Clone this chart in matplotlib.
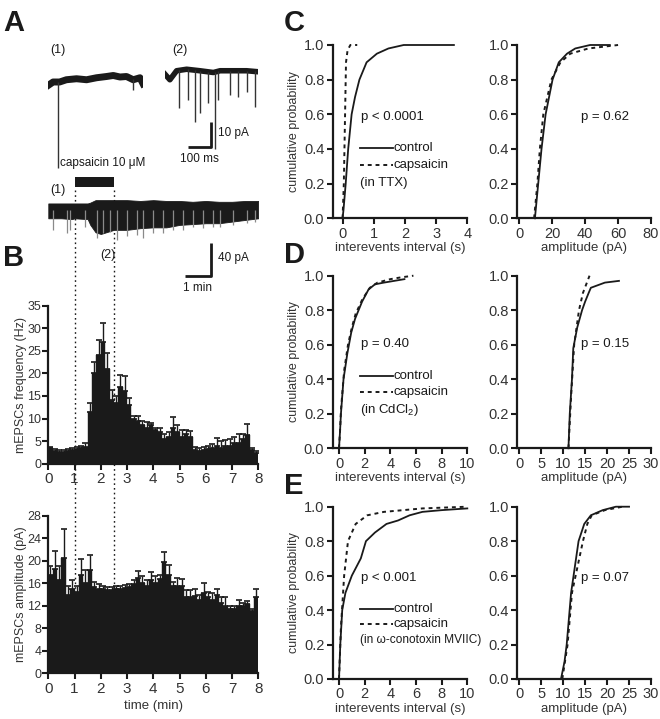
import numpy as np
import matplotlib
matplotlib.use('Agg')
import matplotlib.pyplot as plt
from matplotlib.lines import Line2D
from matplotlib.patches import Rectangle
from matplotlib.transforms import blended_transform_factory

plt.rcParams['font.family'] = ['Liberation Sans', 'DejaVu Sans']
plt.rcParams['mathtext.fontset'] = 'custom'
plt.rcParams['mathtext.rm'] = 'Liberation Sans'
plt.rcParams['mathtext.it'] = 'Liberation Sans:italic'

W, H = 660, 719
INK = '#1a1a1a'

# ---- panel A: example traces (pA, ms) ----
trace1_t = [0, 22, 50, 79, 123, 166, 209, 252, 281, 310, 338, 367, 396, 409]
trace1_i = [-2.2, -0.8, -0.8, 0.1, 0.5, 0.1, 0.9, 1.4, 1.8, 1.2, 1.4, 0.1, 0.9, -1.5]
trace1_ev_t = [45, 364]
trace1_ev_i = [-35.0, -4.0]

trace2_t = [0, 21, 50, 93, 150, 208, 237, 294, 351, 400]
trace2_i = [-1.7, -3.9, -0.3, 0.3, -0.3, -1.0, -0.3, -0.3, -0.3, -0.7]
trace2_ev_t = [60, 98, 129, 150, 186, 215, 229, 280, 315, 351, 387]
trace2_ev_i = [-15.3, -12.0, -20.7, -17.3, -13.3, -31.6, -12.0, -10.0, -10.7, -8.7, -14.7]

# long recording (min, pA)
long_t = [0, 0.5, 0.9, 1.0, 1.5, 1.6, 1.8, 2.0, 2.5, 3.0, 3.5, 4.0, 4.5, 5.0, 5.5, 6.0, 6.5, 7.0, 7.5, 8.0]
long_hi = [8, 8, 8, 8, 8, 9, 12, 12, 12, 12, 11, 12, 11, 11, 10, 11, 10, 10, 11, 11]
long_lo = [-10, -10, -11, -10, -11, -18, -27, -29, -24, -24, -22, -21, -21, -18, -17, -16, -16, -14, -12, -10]
spike_t = [0.19, 0.7, 0.83, 1.4, 1.84, 2.1, 2.35, 2.6, 2.99, 3.37, 3.62, 4.0, 4.38, 4.76,
           5.14, 5.52, 5.9, 6.29, 6.54, 7.05, 7.56, 7.87]
spike_i = [-24, -28, -24, -20, -34, -28, -26, -36, -32, -30, -34, -28, -28, -24,
           -24, -20, -22, -20, -20, -18, -16, -14]
caps_on, caps_off = 1.0, 2.5

# ---- panel B: 10 s bins ----
bin_w = 10 / 60
freq_mean = [3.5, 2.8, 2.5, 2.7, 2.8, 3.0, 3.2, 3.4, 3.6,
             11.5, 20.0, 24.0, 27.0, 21.0, 14.0, 13.5, 17.0, 16.0,
             13.0, 10.0, 9.5, 8.5, 8.0, 8.5, 7.5, 7.0, 5.5,
             6.0, 8.0, 7.0, 6.0, 6.5, 6.0, 3.0, 2.8, 3.0,
             3.3, 3.5, 4.0, 3.5, 4.0, 4.0, 4.5, 4.5, 5.5,
             6.3, 3.0, 2.3]
freq_sem = [0.3, 0.4, 0.5, 0.4, 0.4, 0.5, 0.4, 0.6, 1.0,
            2.0, 2.5, 3.3, 4.2, 3.5, 2.3, 1.5, 2.7, 3.5,
            1.5, 0.5, 1.0, 1.0, 1.3, 0.5, 0.5, 1.0, 1.0,
            1.0, 2.3, 1.5, 1.5, 0.9, 1.2, 0.8, 0.7, 0.8,
            0.7, 0.8, 1.6, 1.5, 1.3, 1.5, 1.5, 2.0, 1.1,
            2.5, 0.5, 0.5]
amp_mean = [17.5, 18.5, 16.5, 20.5, 14.0, 15.0, 14.5, 17.5, 16.0, 18.3,
            15.3, 15.0, 15.0, 14.8, 14.8, 15.0, 15.0, 15.2, 15.3, 15.8,
            17.0, 16.0, 15.5, 16.5, 16.0, 16.8, 19.7, 17.5, 15.5, 15.5,
            15.5, 13.5, 13.5, 13.8, 13.0, 14.3, 13.5, 13.0, 14.0, 12.5,
            12.0, 11.5, 11.5, 12.0, 12.0, 12.3, 11.0, 13.5]
amp_sem = [1.5, 3.3, 2.5, 5.1, 1.5, 1.5, 1.0, 2.8, 2.3, 2.8,
           1.0, 0.8, 0.5, 0.5, 0.5, 0.5, 0.5, 0.4, 0.5, 0.7,
           1.2, 1.3, 1.0, 1.5, 1.2, 0.7, 1.9, 1.8, 0.8, 1.5,
           1.3, 1.3, 1.3, 1.2, 1.0, 1.7, 1.0, 1.3, 1.0, 1.0,
           1.5, 0.5, 0.5, 1.0, 0.5, 0.5, 0.5, 1.5]

# ---- panels C-E: cumulative distributions ----
c_int_ctrl = ([0.0, 0.03, 0.1, 0.18, 0.29, 0.4, 0.54, 0.77, 1.1, 1.47, 1.96, 3.57],
              [0.0, 0.05, 0.2, 0.4, 0.6, 0.7, 0.8, 0.9, 0.95, 0.98, 1.0, 1.0])
c_int_caps = ([0.0, 0.04, 0.08, 0.11, 0.16, 0.25, 0.47],
              [0.0, 0.2, 0.6, 0.9, 0.97, 1.0, 1.0])
c_amp_ctrl = ([9.5, 11.5, 13.5, 16.0, 20.2, 24.0, 29.0, 34.0, 43.0, 55.0],
              [0.0, 0.2, 0.4, 0.6, 0.8, 0.9, 0.95, 0.98, 1.0, 1.0])
c_amp_caps = ([9.0, 11.0, 12.5, 14.6, 19.5, 25.0, 31.0, 42.0, 60.0],
              [0.0, 0.2, 0.4, 0.6, 0.8, 0.9, 0.95, 0.98, 1.0])
d_int_ctrl = ([0.0, 0.08, 0.15, 0.35, 0.65, 0.95, 1.25, 1.8, 2.3, 2.8, 3.5, 4.3, 5.1],
              [0.0, 0.1, 0.2, 0.4, 0.55, 0.67, 0.75, 0.85, 0.92, 0.95, 0.96, 0.97, 0.98])
d_int_caps = ([0.0, 0.08, 0.15, 0.4, 0.7, 1.0, 1.3, 1.8, 2.4, 3.0, 4.0, 4.8, 5.8],
              [0.0, 0.1, 0.22, 0.45, 0.6, 0.7, 0.78, 0.86, 0.93, 0.96, 0.98, 0.99, 1.0])
d_amp_ctrl = ([11.2, 11.5, 12.0, 12.3, 13.2, 14.3, 15.0, 15.8, 16.3, 19.5, 22.7],
              [0.0, 0.2, 0.4, 0.58, 0.7, 0.8, 0.85, 0.9, 0.93, 0.96, 0.97])
d_amp_caps = ([11.2, 11.8, 12.5, 13.6, 14.5, 16.0],
              [0.0, 0.3, 0.6, 0.8, 0.9, 1.0])
e_int_ctrl = ([0.0, 0.1, 0.25, 0.5, 1.0, 1.7, 2.1, 2.8, 3.7, 4.6, 5.5, 6.5, 8.0, 10.0],
              [0.0, 0.2, 0.4, 0.5, 0.6, 0.7, 0.8, 0.85, 0.9, 0.92, 0.95, 0.97, 0.98, 0.99])
e_int_caps = ([0.0, 0.15, 0.4, 0.7, 1.3, 2.2, 3.5, 6.5, 10.0],
              [0.0, 0.3, 0.6, 0.8, 0.9, 0.95, 0.97, 0.99, 1.0])
e_amp_ctrl = ([9.5, 10.3, 10.8, 11.8, 13.5, 14.8, 16.3, 19.0, 22.0, 25.0],
              [0.0, 0.1, 0.2, 0.5, 0.8, 0.9, 0.95, 0.98, 1.0, 1.0])
e_amp_caps = ([9.8, 11.0, 12.0, 14.5, 15.5, 16.5, 19.5, 23.5],
              [0.0, 0.2, 0.5, 0.8, 0.9, 0.95, 0.98, 1.0])


def box(x0, y0, x1, y1):
    return [x0 / W, 1 - y1 / H, (x1 - x0) / W, (y1 - y0) / H]


fig = plt.figure(figsize=(6.6, 7.19), dpi=100)

# ---------- A ----------
def draw_trace(ax, t, i, ev_t, ev_i, lw):
    ax.plot(t, i, color=INK, lw=lw, solid_joinstyle='round')
    ax.vlines(ev_t, ev_i, np.interp(ev_t, t, i), color='#333333', lw=1.0)
    ax.axis('off')

ax1 = fig.add_axes(box(48, 55, 143, 180))
draw_trace(ax1, trace1_t, trace1_i, trace1_ev_t, trace1_ev_i, 5)
ax1.set_xlim(0, 409)
ax1.set_ylim(-40, 10)
ax1.text(43, 12, '(1)', ha='center', va='center', fontsize=9, color=INK)

ax2 = fig.add_axes(box(165, 45, 258, 170))
draw_trace(ax2, trace2_t, trace2_i, trace2_ev_t, trace2_ev_i, 4)
ax2.set_xlim(0, 400)
ax2.set_ylim(-40, 10)
ax2.text(64, 8, '(2)', ha='center', va='center', fontsize=9, color=INK)
ax2.plot([198, 198, 98], [-20.8, -30.8, -30.8], color=INK, lw=2, solid_capstyle='butt')
ax2.text(228, -25.2, '10 pA', ha='left', va='center', fontsize=8.5, color=INK)
ax2.text(150, -35.6, '100 ms', ha='center', va='center', fontsize=8.5, color=INK)

axl = fig.add_axes(box(48.3, 155, 258.3, 300))
axl.patch.set_alpha(0)
axl.vlines(spike_t, spike_i, 0, color='#8a8a8a', lw=0.9)
axl.fill_between(long_t, long_lo, long_hi, color=INK, lw=0.6)
axl.add_patch(Rectangle((caps_on, 28), caps_off - caps_on, 12, color=INK, lw=0))
axl.text(0.45, 57, 'capsaicin 10 \u03bcM', ha='left', va='center', fontsize=8.5, color=INK)
axl.text(0.37, 24, '(1)', ha='center', va='center', fontsize=9, color=INK)
axl.text(2.28, -54, '(2)', ha='center', va='center', fontsize=9, color=INK)
axl.plot([6.2, 6.2, 5.2], [-40, -80, -80], color=INK, lw=2, solid_capstyle='butt')
axl.text(6.47, -58, '40 pA', ha='left', va='center', fontsize=8.5, color=INK)
axl.text(5.7, -94, '1 min', ha='center', va='center', fontsize=8.5, color=INK)
axl.set_xlim(0, 8)
axl.set_ylim(-109, 66.7)
axl.axis('off')

# ---------- B ----------
bin_start = np.arange(len(freq_mean)) * bin_w


def hist_axes(rect, mean, sem, ymax, yticks, ylabel):
    ax = fig.add_axes(rect)
    ax.patch.set_alpha(0)
    ax.bar(bin_start, mean, width=bin_w, align='edge', color=INK, edgecolor=INK, lw=0.3)
    ax.errorbar(bin_start + bin_w / 2, mean, yerr=[np.zeros(len(sem)), sem], fmt='none',
                ecolor=INK, elinewidth=1.0, capsize=2.5, capthick=1.2)
    ax.set_xlim(0, 8)
    ax.set_ylim(0, ymax)
    ax.set_xticks(range(9))
    ax.set_yticks(yticks)
    for s in ['top', 'right']:
        ax.spines[s].set_visible(False)
    for s in ['left', 'bottom']:
        ax.spines[s].set_linewidth(1.6)
        ax.spines[s].set_color(INK)
    ax.tick_params(axis='both', direction='out', length=4, width=1.5, color=INK)
    ax.tick_params(axis='x', labelsize=11, pad=2, labelcolor='#333333')
    ax.tick_params(axis='y', labelsize=9, pad=1, labelcolor='#333333')
    ax.set_ylabel(ylabel, fontsize=9, color='#333333', labelpad=0)
    return ax


axf = hist_axes(box(48.3, 305.7, 258.3, 463.7), freq_mean, freq_sem, 35,
                range(0, 36, 5), 'mEPSCs frequency (Hz)')
axa = hist_axes(box(48.3, 515.7, 258.3, 673.3), amp_mean, amp_sem, 28,
                range(0, 29, 4), 'mEPSCs amplitude (pA)')
axa.set_xlabel('time (min)', fontsize=9.5, color='#333333', labelpad=3)

trans = blended_transform_factory(axf.transData, fig.transFigure)
for t in [caps_on, caps_off]:
    fig.add_artist(Line2D([t, t], [1 - 190 / H, 1 - 673 / H], transform=trans,
                          color=INK, lw=1.0, ls=(0, (1.2, 2.2)), zorder=-1))

# ---------- C-E ----------
def cdf_axes(rect, xlim, xticks, ctrl, caps, xlabel, ylabel=None):
    ax = fig.add_axes(rect)
    ax.plot(ctrl[0], ctrl[1], color=INK, lw=1.3, clip_on=False)
    ax.plot(caps[0], caps[1], color=INK, lw=1.4, ls=(0, (2, 2)), clip_on=False)
    ax.set_xlim(*xlim)
    ax.set_ylim(0, 1.0)
    ax.set_xticks(xticks)
    ax.set_yticks([0, 0.2, 0.4, 0.6, 0.8, 1.0])
    ax.set_yticklabels(['0.0', '0.2', '0.4', '0.6', '0.8', '1.0'])
    for s in ['top', 'right']:
        ax.spines[s].set_visible(False)
    for s in ['left', 'bottom']:
        ax.spines[s].set_linewidth(1.6)
        ax.spines[s].set_color(INK)
    ax.tick_params(axis='both', direction='out', length=4, width=1.5, color=INK,
                   labelsize=10.5, labelcolor='#333333', pad=2)
    ax.set_xlabel(xlabel, fontsize=9.5, color='#333333', labelpad=1)
    if ylabel:
        ax.set_ylabel(ylabel, fontsize=9, color='#333333', labelpad=3)
    return ax


def legend_block(ax, ptxt, cond, ys, cond_size=9.5):
    ax.text(0.21, ys[0], ptxt, transform=ax.transAxes, fontsize=9.5, color=INK, va='center')
    ax.plot([0.2, 0.445], [ys[1], ys[1]], transform=ax.transAxes, color=INK, lw=1.3)
    ax.plot([0.2, 0.445], [ys[2], ys[2]], transform=ax.transAxes, color=INK, lw=1.4,
            ls=(0, (2, 2)))
    ax.text(0.455, ys[1], 'control', transform=ax.transAxes, fontsize=9.5, color=INK, va='center')
    ax.text(0.455, ys[2], 'capsaicin', transform=ax.transAxes, fontsize=9.5, color=INK, va='center')
    ax.text(0.2, ys[3], cond, transform=ax.transAxes, fontsize=cond_size, color=INK, va='center')


L0, L1 = 332.6, 467.3
R0, R1 = 517.3, 651

axc1 = cdf_axes(box(L0, 45, L1, 218.3), (-0.32, 4), range(0, 5), c_int_ctrl, c_int_caps,
                'interevents interval (s)', 'cumulative probability')
legend_block(axc1, 'p < 0.0001', '(in TTX)', [0.583, 0.407, 0.31, 0.205])
axc2 = cdf_axes(box(R0, 45, R1, 218.3), (-1.2, 80), range(0, 81, 20), c_amp_ctrl, c_amp_caps,
                'amplitude (pA)')
axc2.text(0.48, 0.583, 'p = 0.62', transform=axc2.transAxes, fontsize=9.5, color=INK, va='center')

axd1 = cdf_axes(box(L0, 275.7, L1, 448.3), (-0.5, 10), range(0, 11, 2), d_int_ctrl, d_int_caps,
                'interevents interval (s)', 'cumulative probability')
legend_block(axd1, 'p = 0.40', '(in CdCl$_2$)', [0.605, 0.42, 0.324, 0.222])
axd2 = cdf_axes(box(R0, 275.7, R1, 448.3), (-0.45, 30), range(0, 31, 5), d_amp_ctrl, d_amp_caps,
                'amplitude (pA)')
axd2.text(0.48, 0.605, 'p = 0.15', transform=axd2.transAxes, fontsize=9.5, color=INK, va='center')

axe1 = cdf_axes(box(L0, 506.7, L1, 679), (-0.5, 10), range(0, 11, 2), e_int_ctrl, e_int_caps,
                'interevents interval (s)', 'cumulative probability')
legend_block(axe1, 'p < 0.001', '(in \u03c9-conotoxin MVIIC)', [0.584, 0.406, 0.319, 0.226],
             cond_size=8.6)
axe2 = cdf_axes(box(R0, 506.7, R1, 679), (-0.45, 30), range(0, 31, 5), e_amp_ctrl, e_amp_caps,
                'amplitude (pA)')
axe2.text(0.48, 0.584, 'p = 0.07', transform=axe2.transAxes, fontsize=9.5, color=INK, va='center')

# panel letters
for lab, x, y in [('A', 3, 31), ('B', 3, 266), ('C', 284, 31), ('D', 284, 263), ('E', 284, 494)]:
    fig.text(x / W, 1 - y / H, lab, fontsize=21, fontweight='bold', color=INK, va='baseline')

fig.savefig('out.png', dpi=100)
